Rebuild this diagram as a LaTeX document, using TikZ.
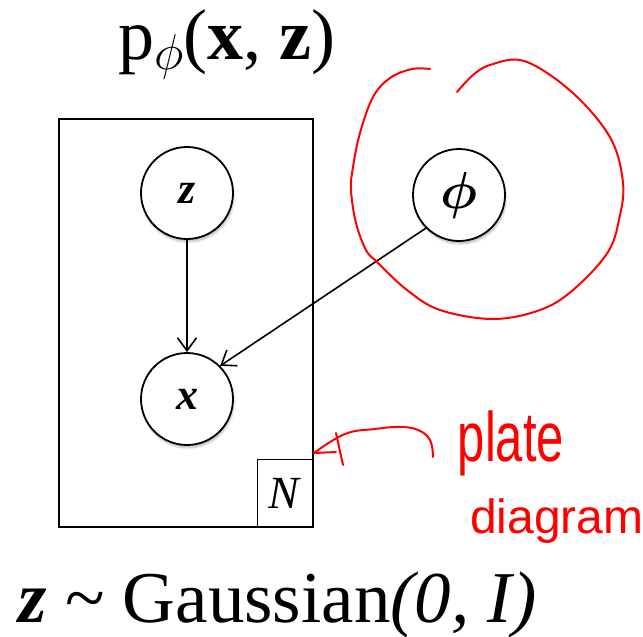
\RequirePackage{fix-cm}
\documentclass[tikz,border=0pt]{standalone}
\usepackage{fontspec}
\setmainfont{Liberation Serif}
\newfontfamily\handfont{Liberation Sans}
\usepackage{bm}
\usepackage{tikz}
\usetikzlibrary{arrows.meta,positioning,shadows.blur}

\begin{document}
\begin{tikzpicture}[
    x=1pt, y=-1pt,
    >={Straight Barb[length=13pt,width=19pt]},
    var/.style={draw, circle, line width=1.8pt, minimum size=92pt, inner sep=0pt, fill=white,
        blur shadow={shadow xshift=1pt, shadow yshift=-3pt, shadow blur steps=6, shadow opacity=25},
        font=\fontsize{44}{50}\selectfont},
    plate/.style={draw, rectangle, line width=2.4pt, minimum width=254pt, minimum height=408pt, inner sep=0pt},
    nbox/.style={draw, rectangle, line width=1.6pt, minimum width=56pt, minimum height=68pt, inner sep=0pt,
        font=\fontsize{46}{52}\selectfont},
    link/.style={->, line width=1.6pt},
    ink/.style={red, line width=2pt, line cap=round, line join=round},
    scribble/.style={red, inner sep=0pt, font=\handfont\fontsize{70}{76}\selectfont}
]
    \useasboundingbox (0,0) rectangle (643,637);

    \node[anchor=base, font=\fontsize{72}{80}\selectfont] (title) at (227,59)
        {p\textsubscript{$\phi$}(\textbf{x}, \textbf{z})};

    \node[plate] (plate) at (186,323) {};
    \node[nbox, anchor=south east] (n) at (plate.south east) {\textit{N}};

    \node[var] (z) at (187,193) {\textbf{\textit{z}}};
    \node[var] (x) at (187,399) {\textbf{\textit{x}}};
    \node[var, font=\fontsize{52}{58}\selectfont] (phi) at (459,195) {$\bm{\phi}$};

    \draw[link] (z) -- (x);
    \draw[link] (phi.225) -- (x.45);

    \node[anchor=base west, font=\fontsize{73}{80}\selectfont] (prior) at (15,622)
        {\textbf{\textit{z}} \textasciitilde{} Gaussian\textit{(0, I)}};

    % red annotations
    \draw[ink] plot[smooth, tension=0.6] coordinates {(430,69) (412,69) (390,78) (373,97) (360,133) (353,167)
        (351,190) (356,223) (366,250) (377,262) (407,290) (440,310) (493,319) (540,310) (573,290) (608,252)
        (620,215) (623,183) (613,143) (587,107) (553,77) (520,60) (490,65) (473,75) (457,92)};
    \coordinate (tip) at (314,453);
    \draw[ink] plot[smooth, tension=0.7] coordinates {(433,457) (430,440) (418,430) (400,427) (375,429) (345,434) (tip)};
    \draw[ink] (tip) -- (336,452);
    \draw[ink] (336,433) -- (343,465);
    \node[scribble, xscale=0.7] (plate word) at (511,443) {plate};
    \node[scribble, anchor=base west, font=\handfont\fontsize{48}{54}\selectfont] (diagram word) at (470,533) {diagram};
\end{tikzpicture}
\end{document}
